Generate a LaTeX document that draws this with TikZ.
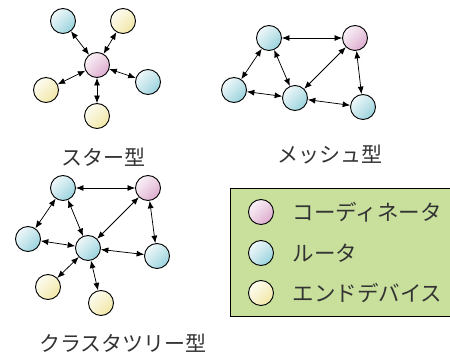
\documentclass[tikz,border=0pt]{standalone}
\usepackage{fontspec}
\setmainfont{Noto Sans CJK JP}
\usetikzlibrary{arrows.meta,shadings}
\definecolor{coordc}{HTML}{D69BC4}
\definecolor{routerc}{HTML}{86CAD6}
\definecolor{endc}{HTML}{EEE294}
\definecolor{legendbg}{HTML}{C9E09D}
\definecolor{txt}{HTML}{333333}
\tikzset{
  dev/.style={circle, draw=black, line width=0.9pt, minimum size=25pt, inner sep=0pt},
  coord/.style={dev, upper left=white, upper right=coordc!45, lower left=coordc!45, lower right=coordc},
  router/.style={dev, upper left=white, upper right=routerc!45, lower left=routerc!45, lower right=routerc},
  enddev/.style={dev, upper left=white, upper right=endc!45, lower left=endc!45, lower right=endc},
  link/.style={line width=0.75pt, {Latex[length=7.5pt,width=6pt]}-{Latex[length=7.5pt,width=6pt]}},
  title/.style={text=txt, font=\fontsize{21}{24}\selectfont},
  legendtext/.style={text=txt, font=\fontsize{21.5}{24}\selectfont, anchor=west}
}
\begin{document}
\begin{tikzpicture}[x=1pt, y=-1pt]
\useasboundingbox (0,0) rectangle (450,358);

% star topology
\node[coord]  (s0) at (97,65) {};
\node[router] (s1) at (63,21) {};
\node[enddev] (s2) at (123,21) {};
\node[enddev] (s3) at (46,90) {};
\node[router] (s4) at (148,82) {};
\node[enddev] (s5) at (97,116) {};
\foreach \n in {s1,s2,s3,s4,s5} \draw[link] (s0) -- (\n);
\node[title] (tstar) at (103,157) {スター型};

% mesh topology
\node[router] (m1) at (269,38) {};
\node[coord]  (m2) at (355,38) {};
\node[router] (m3) at (234,90) {};
\node[router] (m4) at (295,98) {};
\node[router] (m5) at (363,107) {};
\draw[link] (m1) -- (m2);
\draw[link] (m1) -- (m3);
\draw[link] (m1) -- (m4);
\draw[link] (m2) -- (m4);
\draw[link] (m2) -- (m5);
\draw[link] (m3) -- (m4);
\draw[link] (m4) -- (m5);
\node[title] (tmesh) at (330,155) {メッシュ型};

% cluster tree topology
\node[router] (c1) at (63,188) {};
\node[coord]  (c2) at (148,188) {};
\node[router] (c3) at (28,239) {};
\node[router] (c4) at (88,248) {};
\node[router] (c5) at (157,256) {};
\node[enddev] (c6) at (48,287) {};
\node[enddev] (c7) at (101,303) {};
\draw[link] (c1) -- (c2);
\draw[link] (c1) -- (c3);
\draw[link] (c1) -- (c4);
\draw[link] (c2) -- (c4);
\draw[link] (c2) -- (c5);
\draw[link] (c3) -- (c4);
\draw[link] (c4) -- (c5);
\draw[link] (c4) -- (c6);
\draw[link] (c4) -- (c7);
\node[title] (tclus) at (123,343) {クラスタツリー型};

% legend
\fill[legendbg] (230,188) rectangle (450,316);
\draw[line width=0.9pt] (452,188) -- (230,188) -- (230,316) -- (452,316);
\node[coord]  (l1) at (261,212) {};
\node[router] (l2) at (261,253) {};
\node[enddev] (l3) at (261,293) {};
\node[legendtext] (lt1) at (289,212) {コーディネータ};
\node[legendtext] (lt2) at (289,253) {ルータ};
\node[legendtext] (lt3) at (289,293) {エンドデバイス};
\end{tikzpicture}
\end{document}
